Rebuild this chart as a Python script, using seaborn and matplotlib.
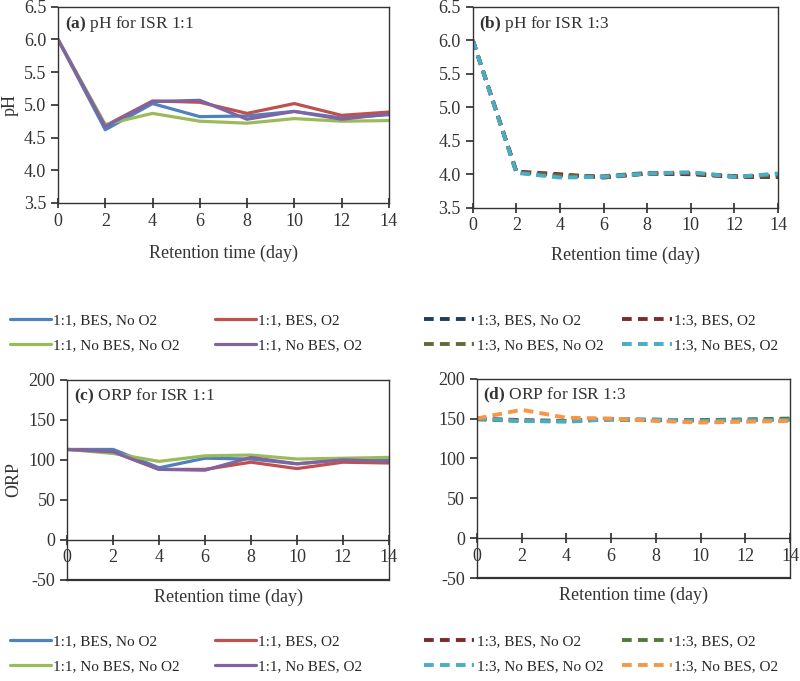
import pandas as pd
import seaborn as sns
import matplotlib.pyplot as plt
from matplotlib.ticker import FormatStrFormatter

sns.set_theme(style='white')
plt.rcParams['font.family'] = ['Liberation Serif', 'DejaVu Serif']
plt.rcParams['mathtext.fontset'] = 'custom'
plt.rcParams['mathtext.rm'] = 'Liberation Serif'
plt.rcParams['mathtext.bf'] = 'Liberation Serif:bold'

days = [0, 2, 4, 6, 8, 10, 12, 14]

# pH, ISR 1:1
names_a = ['1:1, BES, No O2', '1:1, BES, O2', '1:1, No BES, No O2', '1:1, No BES, O2']
ph_a = [
    [6.0, 4.62, 5.02, 4.82, 4.83, 4.90, 4.80, 4.85],
    [6.0, 4.68, 5.06, 5.04, 4.87, 5.02, 4.84, 4.89],
    [6.0, 4.70, 4.87, 4.75, 4.72, 4.79, 4.75, 4.76],
    [6.0, 4.67, 5.05, 5.07, 4.78, 4.90, 4.78, 4.86],
]
colors_a = ['#4F81BD', '#C0504D', '#9BBB59', '#8064A2']

# pH, ISR 1:3
names_b = ['1:3, BES, No O2', '1:3, BES, O2', '1:3, No BES, No O2', '1:3, No BES, O2']
ph_b = [
    [6.0, 4.03, 3.98, 3.96, 4.01, 4.01, 3.97, 3.96],
    [6.0, 4.04, 4.00, 3.95, 4.01, 4.00, 3.96, 3.96],
    [6.0, 4.03, 3.98, 3.97, 4.02, 4.02, 3.97, 3.98],
    [6.0, 4.02, 3.95, 3.96, 4.01, 4.03, 3.96, 4.01],
]
colors_b = ['#1F3F5F', '#7B2B2A', '#5F6B3A', '#4BACC6']

# ORP, ISR 1:1
orp_c = [
    [113, 113, 90, 102, 101, 95, 100, 100],
    [113, 110, 88, 88, 97, 89, 97, 96],
    [113, 108, 98, 105, 106, 101, 102, 103],
    [113, 110, 88, 87, 103, 95, 100, 98],
]

# ORP, ISR 1:3
orp_d = [
    [150, 148, 147, 149, 148, 148, 148, 149],
    [149, 147, 147, 149, 148, 148, 149, 150],
    [150, 147, 146, 149, 149, 147, 148, 148],
    [150, 161, 151, 150, 147, 145, 146, 147],
]
colors_d = ['#7B2B2A', '#4F7A3A', '#4BACC6', '#F79646']

TXT = '#333333'


def long_df(names, values):
    rows = []
    for n, vals in zip(names, values):
        for d, v in zip(days, vals):
            rows.append({'day': d, 'value': v, 'series': n})
    return pd.DataFrame(rows)


fig = plt.figure(figsize=(8, 6.81), dpi=100)
ax_a = fig.add_axes([0.0725, 0.702, 0.4135, 0.288])
ax_b = fig.add_axes([0.591, 0.695, 0.3815, 0.295])
ax_c = fig.add_axes([0.084, 0.149, 0.402, 0.293])
ax_d = fig.add_axes([0.596, 0.151, 0.3915, 0.293])


def draw(ax, names, values, colors, dashed, title, ylabel, ylim, yticks, fmt):
    df = long_df(names, values)
    pal = dict(zip(names, colors))
    if dashed:
        sns.lineplot(data=df, x='day', y='value', hue='series', style='series',
                     palette=pal, dashes={n: (2.5, 1.6) for n in names},
                     linewidth=2.8, ax=ax)
    else:
        sns.lineplot(data=df, x='day', y='value', hue='series', palette=pal,
                     linewidth=2.3, ax=ax)
    ax.get_legend().remove()
    ax.set_xlim(0, 14)
    ax.set_xticks(range(0, 15, 2))
    ax.set_ylim(*ylim)
    ax.set_yticks(yticks)
    ax.yaxis.set_major_formatter(FormatStrFormatter(fmt))
    ax.set_xlabel('Retention time (day)', fontsize=13, color=TXT)
    ax.set_ylabel(ylabel, fontsize=13, color=TXT)
    for s in ax.spines.values():
        s.set_color(TXT)
        s.set_linewidth(1.0)
    ax.tick_params(axis='y', direction='out', length=5, labelsize=13,
                   colors=TXT, left=True)
    ax.tick_params(axis='x', direction='inout', length=7, labelsize=13,
                   colors=TXT, bottom=True)
    ax.text(0.02, 0.965, title, transform=ax.transAxes, ha='left', va='top',
            fontsize=12.5, color=TXT)
    h, l = ax.get_legend_handles_labels()
    # reorder so legend reads row by row
    order = [0, 2, 1, 3]
    return [h[i] for i in order], [l[i] for i in order]


yt_ph = [3.5, 4.0, 4.5, 5.0, 5.5, 6.0, 6.5]
yt_orp = [-50, 0, 50, 100, 150, 200]
h_a, l_a = draw(ax_a, names_a, ph_a, colors_a, False, r'$\bf{(a)}$ pH for ISR 1:1',
                'pH', (3.5, 6.5), yt_ph, '%.1f')
h_b, l_b = draw(ax_b, names_b, ph_b, colors_b, True, r'$\bf{(b)}$ pH for ISR 1:3',
                '', (3.5, 6.5), yt_ph, '%.1f')
h_c, l_c = draw(ax_c, names_a, orp_c, colors_a, False, r'$\bf{(c)}$ ORP for ISR 1:1',
                'ORP', (-50, 200), yt_orp, '%d')
h_d, l_d = draw(ax_d, names_b, orp_d, colors_d, True, r'$\bf{(d)}$ ORP for ISR 1:3',
                '', (-50, 200), yt_orp, '%d')

# ORP panels: x axis crosses at zero, frame closed at -50
for ax in (ax_c, ax_d):
    ax.spines['bottom'].set_position(('data', 0))
    ax.axhline(-50, color=TXT, linewidth=1.6, clip_on=False)
    ax.xaxis.set_label_coords(0.5, -0.045)

ax_a.xaxis.labelpad = 11
ax_b.xaxis.labelpad = 9

ax_a.yaxis.set_label_coords(-0.12, 0.5)
ax_c.yaxis.set_label_coords(-0.14, 0.5)

leg_kw = dict(ncol=2, frameon=False, fontsize=11, labelspacing=0.75,
              handletextpad=0.15, borderaxespad=0, borderpad=0)
solid_kw = dict(handlelength=2.7, columnspacing=2.3, **leg_kw)
dash_kw = dict(handlelength=3.3, columnspacing=1.2, **leg_kw)
fig.legend(h_a, l_a, loc='upper left', bbox_to_anchor=(0.012, 0.540), **solid_kw)
fig.legend(h_b, l_b, loc='upper left', bbox_to_anchor=(0.53, 0.540), **dash_kw)
fig.legend(h_c, l_c, loc='upper left', bbox_to_anchor=(0.012, 0.068), **solid_kw)
fig.legend(h_d, l_d, loc='upper left', bbox_to_anchor=(0.53, 0.068), **dash_kw)

plt.savefig('out.png', dpi=100)
